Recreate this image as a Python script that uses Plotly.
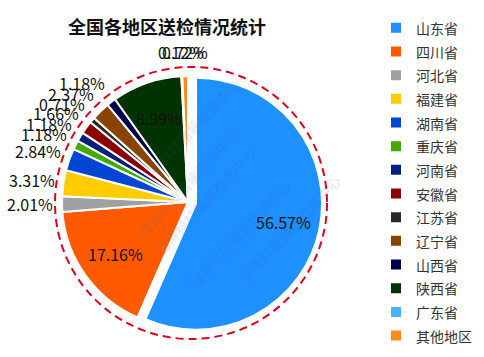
import math
import plotly.graph_objects as go

# ---------------- data ----------------
provinces = ['山东省', '四川省', '河北省', '福建省', '湖南省', '重庆省', '河南省',
             '安徽省', '江苏省', '辽宁省', '山西省', '陕西省', '广东省', '其他地区']
shares = [56.57, 17.16, 2.01, 3.31, 2.84, 1.18, 1.18,
          1.66, 0.71, 2.37, 1.18, 8.99, 0.12, 0.72]
inside_regions = ['山东省', '四川省', '陕西省']
pulled_region = '山东省'
title_text = '全国各地区送检情况统计'
watermark_text = '信得科技猪病检测中心'

# ---------------- style ----------------
colors = ['#1E90FF', '#FF5A00', '#A0A0A0', '#FFCC00', '#0046D5', '#44AA00', '#002080',
          '#8B0000', '#2A2A2A', '#884400', '#00004D', '#013300', '#4DB3FF', '#FF8A1A']
FONT = 'Noto Sans CJK SC'
W, H = 484, 357
CX, CY, R = 188, 202, 126
PULL = 0.065
LA, LB = 133, 150   # outside-label ellipse (horizontal, vertical semi-axes)
RIN = 0.71          # inside-label radius fraction
RD = 136            # dashed ring radius


def px(x):
    return x / W


def py(y):
    return 1 - y / H


half = R * (1 + PULL)
fig = go.Figure(go.Pie(
    labels=[f'<span style="font-size:14px">{p}</span>' for p in provinces],
    values=shares,
    sort=False, direction='clockwise', rotation=0,
    marker=dict(colors=colors, line=dict(color='white', width=2)),
    pull=[PULL if p == pulled_region else 0 for p in provinces],
    textinfo='none',
    domain=dict(x=[px(CX - half), px(CX + half)], y=[py(CY + half), py(CY - half)]),
    hoverinfo='label+value',
))

# ---------------- value labels (positions computed from the data) ----------------
total = sum(shares)
cum = 0.0
annotations = []
lab_font = dict(family=FONT, size=16, color='#111111')
for p, v in zip(provinces, shares):
    mid = (cum + v / 2) / total * 2 * math.pi
    cum += v
    s, c = math.sin(mid), math.cos(mid)
    if p in inside_regions:
        off = R * PULL if p == pulled_region else 0
        x = CX + (off + RIN * R) * s
        y = CY - (off + RIN * R) * c
        xa, ya = 'center', 'middle'
    else:
        x = CX + LA * s
        y = CY - LB * c
        if abs(s) < 0.2:
            xa = 'center'
        else:
            xa = 'right' if s < 0 else 'left'
        ya = 'middle'
    annotations.append(dict(x=px(x), y=py(y), xref='paper', yref='paper',
                            text=f'{v:.2f}%', showarrow=False,
                            xanchor=xa, yanchor=ya, font=lab_font))

# ---------------- watermark ----------------
for wx, wy in [(131, 132), (188, 183), (240, 234), (205, 262), (290, 290)]:
    annotations.append(dict(x=px(wx), y=py(wy), xref='paper', yref='paper',
                            text=f'<b>{watermark_text}</b>', showarrow=False, textangle=-47,
                            font=dict(family=FONT, size=14, color='rgba(60,90,170,0.12)')))

fig.update_layout(
    width=W, height=H, autosize=False,
    margin=dict(l=0, r=0, t=0, b=0),
    paper_bgcolor='white', plot_bgcolor='white',
    title=dict(text=f'<b>{title_text}</b>', x=px(68), xanchor='left',
               y=py(28), yanchor='middle', xref='container', yref='container',
               font=dict(family=FONT, size=18, color='#111111')),
    legend=dict(x=px(376), y=py(11), xanchor='left', yanchor='top',
                font=dict(family=FONT, size=15.9, color='#333333'),
                bgcolor='rgba(0,0,0,0)', traceorder='normal'),
    shapes=[dict(type='circle', xref='paper', yref='paper',
                 x0=px(CX + 3 - RD), x1=px(CX + 3 + RD),
                 y0=py(CY + 1 + RD), y1=py(CY + 1 - RD),
                 line=dict(color='#E0001B', width=2, dash='8px,5px'))],
    annotations=annotations,
)

fig.write_html('out.html')
